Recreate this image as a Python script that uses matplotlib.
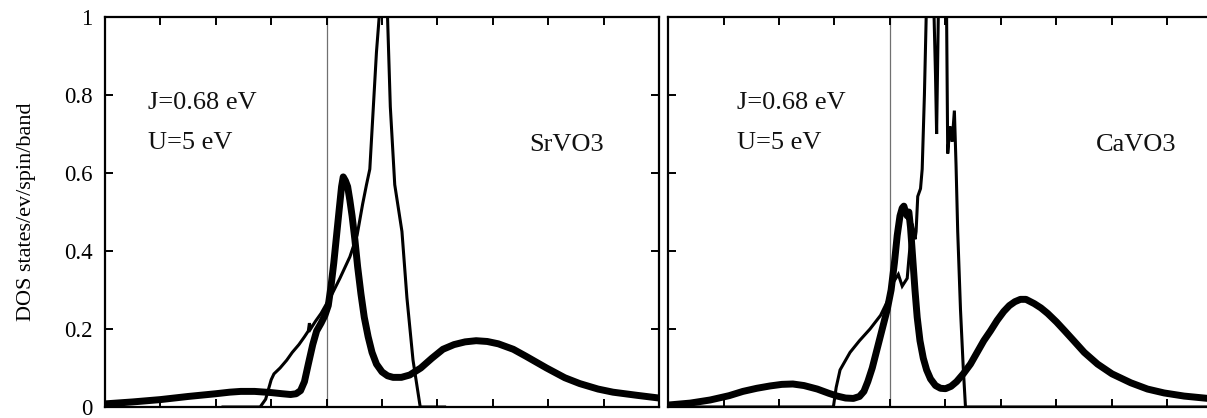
import numpy as np
import matplotlib
matplotlib.use("Agg")
import matplotlib.pyplot as plt

plt.rcParams["font.family"] = "serif"
plt.rcParams["font.serif"] = ["Liberation Serif", "DejaVu Serif"]

# SrVO3: DMFT spectral function (thick) and LDA DOS (thin)
sr_dmft_e = [-4.0, -3.5, -3.0, -2.5, -2.0, -1.75, -1.55, -1.3, -1.0, -0.8, -0.65, -0.55,
             -0.47, -0.4, -0.33, -0.25, -0.18, -0.1, -0.03, 0.03, 0.08, 0.13, 0.18, 0.23,
             0.27, 0.30, 0.34, 0.38, 0.42, 0.46, 0.51, 0.56, 0.62, 0.68, 0.75, 0.82, 0.9,
             1.0, 1.1, 1.2, 1.35, 1.5, 1.7, 1.9, 2.1, 2.3, 2.5, 2.7, 2.9, 3.1, 3.37, 3.6,
             3.97, 4.3, 4.57, 4.9, 5.17, 5.6, 6.0]
sr_dmft_dos = [0.008, 0.013, 0.019, 0.027, 0.034, 0.038, 0.04, 0.04, 0.037, 0.034, 0.032, 0.034,
               0.042, 0.065, 0.11, 0.16, 0.195, 0.215, 0.235, 0.26, 0.31, 0.37, 0.44, 0.51,
               0.565, 0.59, 0.58, 0.565, 0.53, 0.49, 0.43, 0.36, 0.29, 0.23, 0.18, 0.14, 0.11,
               0.09, 0.08, 0.076, 0.076, 0.082, 0.1, 0.125, 0.148, 0.16, 0.167, 0.17, 0.168, 0.162, 0.148, 0.13,
               0.1, 0.075, 0.06, 0.046, 0.038, 0.03, 0.023]

sr_lda_e = [-1.87, -1.2, -1.1, -1.0, -0.95, -0.84, -0.72, -0.62, -0.5, -0.4, -0.33, -0.31,
            -0.29, -0.2, -0.1, 0.0, 0.1, 0.24, 0.42, 0.55, 0.65, 0.72, 0.78, 0.84, 0.9,
            0.96, 1.03, 1.10, 1.15, 1.23, 1.36, 1.45, 1.56, 1.69, 2.13]
sr_lda_dos = [0.0, 0.0, 0.02, 0.07, 0.085, 0.10, 0.12, 0.14, 0.16, 0.18, 0.195, 0.215,
              0.20, 0.22, 0.24, 0.265, 0.29, 0.33, 0.385, 0.44, 0.52, 0.57, 0.61, 0.76, 0.91,
              1.02, 1.25, 1.0, 0.77, 0.57, 0.45, 0.28, 0.12, 0.0, 0.0]

# CaVO3
ca_dmft_e = [-4.0, -3.6, -3.24, -2.9, -2.65, -2.4, -2.16, -1.95, -1.75, -1.55, -1.31, -1.1,
             -0.95, -0.8, -0.66, -0.55, -0.47, -0.4, -0.32, -0.23, -0.14, -0.05, 0.02, 0.08,
             0.13, 0.18, 0.22, 0.25, 0.28, 0.31, 0.34, 0.37, 0.41, 0.45, 0.49, 0.54, 0.6,
             0.66, 0.73, 0.82, 0.91, 1.0, 1.1, 1.2, 1.32, 1.45, 1.57, 1.69, 1.81, 1.93, 2.05,
             2.15, 2.25, 2.35, 2.45, 2.6, 2.72, 2.84, 3.0, 3.15, 3.31, 3.5, 3.74, 4.0, 4.34,
             4.64, 4.94, 5.3, 5.73, 6.0]
ca_dmft_dos = [0.005, 0.01, 0.018, 0.029, 0.04, 0.048, 0.054, 0.058, 0.059, 0.055, 0.046, 0.035,
               0.028, 0.023, 0.022, 0.027, 0.04, 0.065, 0.10, 0.15, 0.2, 0.25, 0.3, 0.37,
               0.44, 0.49, 0.51, 0.515, 0.5, 0.49, 0.5, 0.46, 0.38, 0.3, 0.23, 0.17, 0.125,
               0.095, 0.072, 0.055, 0.048, 0.047, 0.053, 0.065, 0.085, 0.11, 0.14, 0.17, 0.195, 0.222, 0.245,
               0.26, 0.27, 0.276, 0.276, 0.265, 0.254, 0.24, 0.218, 0.195, 0.17, 0.14, 0.11, 0.085, 0.062,
               0.046, 0.036, 0.028, 0.022, 0.019]

ca_lda_e = [-4.0, -1.02, -0.97, -0.9, -0.72, -0.55, -0.36, -0.17, -0.05, 0.06, 0.15, 0.22,
            0.31, 0.34, 0.40, 0.45, 0.47, 0.50, 0.55, 0.58, 0.62, 0.66, 0.70, 0.76, 0.82,
            0.84, 0.87, 0.92, 0.99, 1.02, 1.04, 1.08, 1.12, 1.16, 1.19, 1.22, 1.27, 1.32,
            1.36, 6.0]
ca_lda_dos = [0.0, 0.0, 0.05, 0.095, 0.14, 0.17, 0.2, 0.235, 0.27, 0.32, 0.34, 0.31,
              0.33, 0.38, 0.47, 0.43, 0.45, 0.54, 0.56, 0.61, 0.80, 1.05, 1.3, 1.2, 0.85,
              0.70, 1.0, 1.4, 1.2, 1.0, 0.65, 0.72, 0.68, 0.76, 0.62, 0.45, 0.25, 0.10,
              0.0, 0.0]

panels = [
    ("SrVO3", sr_dmft_e, sr_dmft_dos, sr_lda_e, sr_lda_dos, -3.22, 3.65),
    ("CaVO3", ca_dmft_e, ca_dmft_dos, ca_lda_e, ca_lda_dos, -2.75, 3.71),
]

W, H = 1207, 418
fig = plt.figure(figsize=(W / 100, H / 100), dpi=100)

# axes boxes in pixels: (left, width); the second panel runs off the right edge
boxes = [(105, 554), (668, 555)]

for i, (name, de, dd, le, ld, xtxt, xname) in enumerate(panels):
    left, width = boxes[i]
    ax = fig.add_axes([left / W, 11 / H, width / W, 390 / H])

    ax.axvline(0, color="#707070", lw=0.9, zorder=1)
    ax.plot(le, ld, color="black", lw=2.2, solid_joinstyle="miter", zorder=2)
    ax.plot(de, dd, color="black", lw=5.0, solid_joinstyle="round",
            solid_capstyle="butt", zorder=3)

    ax.set_xlim(-4, 6)
    ax.set_ylim(0, 1)
    ax.set_xticks(np.arange(-4, 7, 1))
    ax.set_yticks([0, 0.2, 0.4, 0.6, 0.8, 1.0])
    ax.set_yticklabels(["0", "0.2", "0.4", "0.6", "0.8", "1"])
    ax.tick_params(direction="in", length=6, width=1.4, top=True, right=True,
                   labelbottom=False, labelsize=16.5, pad=9)
    if i > 0:
        ax.tick_params(labelleft=False)
    for s in ax.spines.values():
        s.set_linewidth(1.6)

    ax.text(xtxt, 0.78, "J=0.68 eV", fontsize=19, va="center", ha="left", color="#111111")
    ax.text(xtxt, 0.677, "U=5 eV", fontsize=19, va="center", ha="left", color="#111111")
    ax.text(xname, 0.672, name, fontsize=19, va="center", ha="left", color="#111111")

    if i == 0:
        ax.set_ylabel("DOS states/ev/spin/band", fontsize=16)
        ax.yaxis.set_label_coords(-0.125, 0.5)

fig.savefig("out.png", dpi=100)
